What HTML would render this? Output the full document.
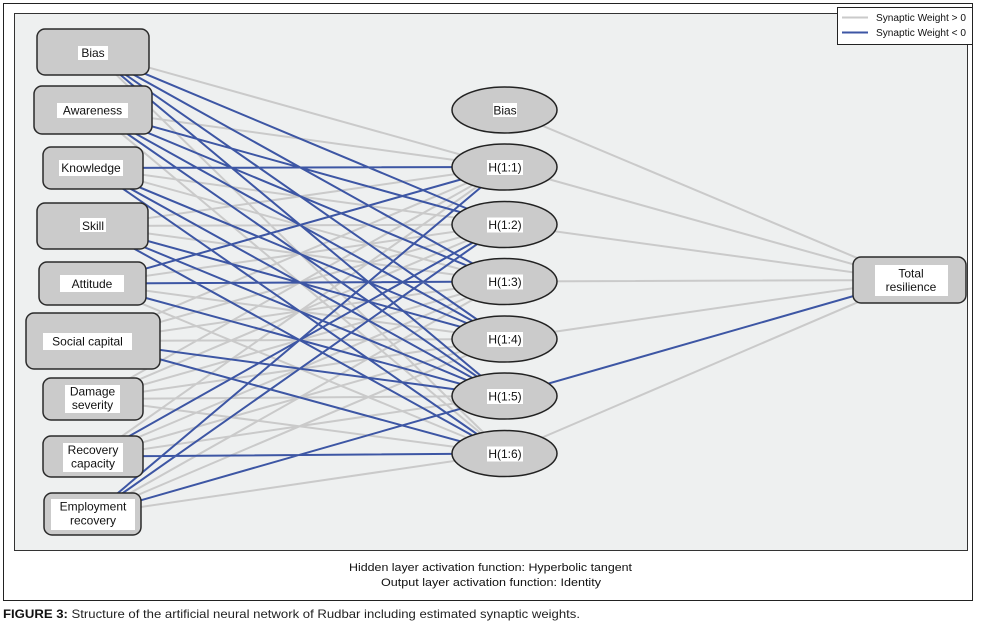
<!DOCTYPE html>
<html><head><meta charset="utf-8"><style>
html,body{margin:0;padding:0;background:#fff;}
svg{display:block;}
text{font-family:"Liberation Sans",sans-serif;fill:#111;}
</style></head><body>
<svg width="982" height="630" viewBox="0 0 982 630" xmlns="http://www.w3.org/2000/svg">
<rect x="3.5" y="3.5" width="969" height="597" fill="#fff" stroke="#222" stroke-width="1"/>
<rect x="14.5" y="13.5" width="953" height="537" fill="#eef0f0" stroke="#333" stroke-width="1"/>
<!-- gray edges -->
<path fill="none" stroke="#cacaca" stroke-width="2" d="
M93 52L505 167 M93 52L505 453.5
M93 110L505 167 M93 110L505 453.5
M93 168L505 224.5 M93 168L505 281.5
M93 226L505 167 M93 226L505 224.5 M93 226L505 281.5
M93 283.5L505 224.5 M93 283.5L505 339 M93 283.5L505 453.5
M93 341L505 167 M93 341L505 224.5 M93 341L505 281.5 M93 341L505 339
M93 399L505 167 M93 399L505 224.5 M93 399L505 281.5 M93 399L505 339 M93 399L505 396 M93 399L505 453.5
M93 456.5L505 167 M93 456.5L505 281.5 M93 456.5L505 339 M93 456.5L505 396
M93 514L505 281.5 M93 514L505 339 M93 514L505 453.5
M505 110L909.5 280 M505 167L909.5 280 M505 224.5L909.5 280 M505 281.5L909.5 280 M505 339L909.5 280 M505 453.5L909.5 280"/>
<!-- blue edges -->
<path fill="none" stroke="#3d56a4" stroke-width="2" d="
M93 52L505 224.5 M93 52L505 281.5 M93 52L505 339 M93 52L505 396
M93 110L505 224.5 M93 110L505 281.5 M93 110L505 339 M93 110L505 396
M93 168L505 167 M93 168L505 339 M93 168L505 396 M93 168L505 453.5
M93 226L505 339 M93 226L505 396 M93 226L505 453.5
M93 283.5L505 167 M93 283.5L505 281.5 M93 283.5L505 396
M93 341L505 396 M93 341L505 453.5
M93 456.5L505 224.5 M93 456.5L505 453.5
M93 514L505 167 M93 514L505 224.5 M93 514L505 396
M505 396L909.5 280"/>
<!-- input nodes -->
<g fill="#cbcbcb" stroke="#2a2a2a" stroke-width="1.5">
<rect x="37" y="29" width="112" height="46" rx="8"/>
<rect x="34" y="86" width="118" height="48" rx="8"/>
<rect x="43" y="147" width="100" height="42" rx="8"/>
<rect x="37" y="203" width="111" height="46" rx="8"/>
<rect x="39" y="262" width="107" height="43" rx="8"/>
<rect x="26" y="313" width="134" height="56" rx="8"/>
<rect x="43" y="378" width="100" height="42" rx="8"/>
<rect x="43" y="436" width="100" height="41" rx="8"/>
<rect x="44" y="493" width="97" height="42" rx="8"/>
<rect x="853" y="257" width="113" height="46" rx="8"/>
</g>
<g fill="#cbcbcb" stroke="#222" stroke-width="1.5">
<ellipse cx="504.5" cy="110" rx="52.5" ry="23"/>
<ellipse cx="504.5" cy="167" rx="52.5" ry="23"/>
<ellipse cx="504.5" cy="224.5" rx="52.5" ry="23"/>
<ellipse cx="504.5" cy="281.5" rx="52.5" ry="23"/>
<ellipse cx="504.5" cy="339" rx="52.5" ry="23"/>
<ellipse cx="504.5" cy="396" rx="52.5" ry="23"/>
<ellipse cx="504.5" cy="453.5" rx="52.5" ry="23"/>
</g>
<!-- label backgrounds -->
<g fill="#fff">
<rect x="78" y="46" width="30" height="14"/>
<rect x="57" y="103" width="71" height="15"/>
<rect x="59" y="160" width="64" height="16"/>
<rect x="80" y="218" width="26" height="14"/>
<rect x="60" y="275" width="64" height="17"/>
<rect x="43" y="333" width="89" height="17"/>
<rect x="65" y="385" width="55" height="28"/>
<rect x="63" y="443" width="60" height="29"/>
<rect x="51" y="499" width="84" height="31"/>
<rect x="493" y="103" width="24" height="14"/>
<rect x="487" y="160" width="36" height="15"/>
<rect x="487" y="217.5" width="36" height="15"/>
<rect x="487" y="274.5" width="36" height="15"/>
<rect x="487" y="332" width="36" height="15"/>
<rect x="487" y="389" width="36" height="15"/>
<rect x="487" y="446.5" width="36" height="15"/>
<rect x="875" y="265" width="73" height="31"/>
</g>
<g font-size="12" text-anchor="middle">
<text x="93" y="57">Bias</text>
<text x="92.5" y="114.5">Awareness</text>
<text x="91" y="172">Knowledge</text>
<text x="93" y="230">Skill</text>
<text x="92" y="288">Attitude</text>
<text x="87.5" y="345.5">Social capital</text>
<text x="92.5" y="395.5">Damage</text>
<text x="92.5" y="409">severity</text>
<text x="93" y="454">Recovery</text>
<text x="93" y="467.5">capacity</text>
<text x="93" y="510.5">Employment</text>
<text x="93" y="524.5">recovery</text>
<text x="505" y="114.5">Bias</text>
<text x="505" y="171.5">H(1:1)</text>
<text x="505" y="229">H(1:2)</text>
<text x="505" y="286">H(1:3)</text>
<text x="505" y="343.5">H(1:4)</text>
<text x="505" y="400.5">H(1:5)</text>
<text x="505" y="458">H(1:6)</text>
<text x="911" y="277.5">Total</text>
<text x="911" y="291">resilience</text>
</g>
<!-- legend -->
<rect x="837.5" y="7.5" width="135" height="37" fill="#fff" stroke="#222" stroke-width="1"/>
<line x1="842" y1="17.5" x2="868" y2="17.5" stroke="#cacaca" stroke-width="2"/>
<line x1="842" y1="32.5" x2="868" y2="32.5" stroke="#3d56a4" stroke-width="2"/>
<text x="876" y="21" font-size="10" textLength="90" lengthAdjust="spacingAndGlyphs">Synaptic Weight &gt; 0</text>
<text x="876" y="36" font-size="10" textLength="90" lengthAdjust="spacingAndGlyphs">Synaptic Weight &lt; 0</text>
<!-- footer text -->
<text x="349" y="571" font-size="11" textLength="283" lengthAdjust="spacingAndGlyphs">Hidden layer activation function: Hyperbolic tangent</text>
<text x="381" y="586" font-size="11" textLength="220" lengthAdjust="spacingAndGlyphs">Output layer activation function: Identity</text>
<text x="3" y="618" font-size="12" textLength="577" lengthAdjust="spacingAndGlyphs" style="fill:#222"><tspan font-weight="bold" style="fill:#111">FIGURE 3:</tspan> Structure of the artificial neural network of Rudbar including estimated synaptic weights.</text>
</svg>
</body></html>
